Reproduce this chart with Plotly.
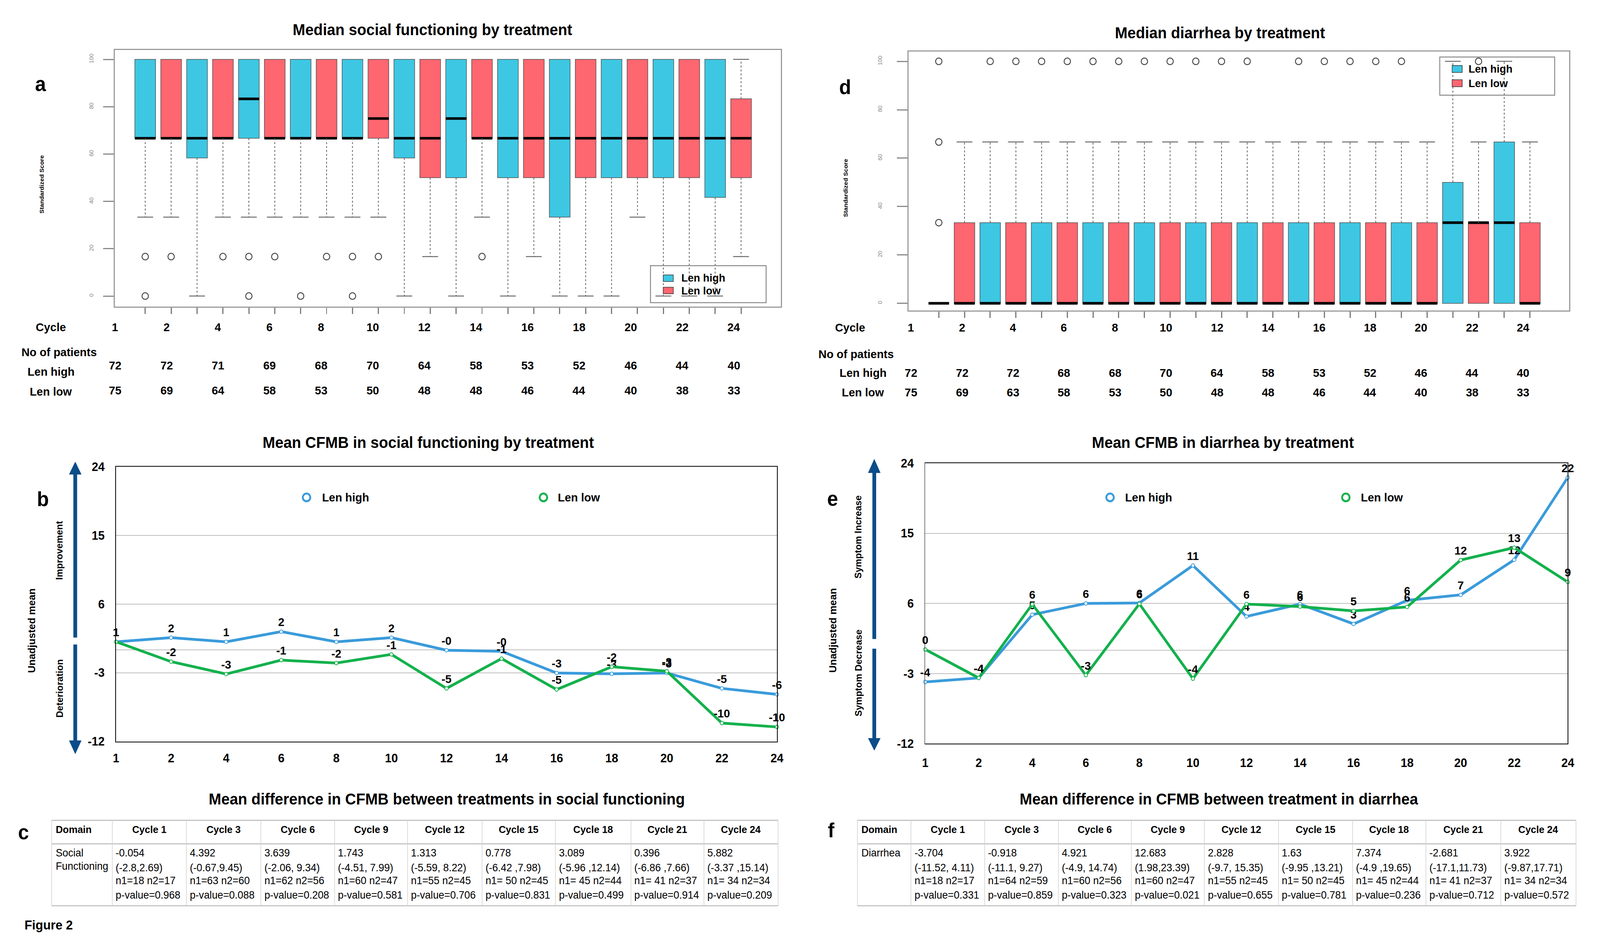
import plotly.graph_objects as go

W, H = 4248, 2430


def px(x):
    return x / W


def py(y):
    return 1 - y / H


FONT = "Liberation Sans, Arial, Helvetica, sans-serif"
CYAN = "#3DC7E3"
RED = "#FE6670"
BLUE = "#3A9BDB"
GREEN = "#13B14C"
NAVY = "#0B4D89"
GRAYTXT = "#8a8a8a"

# ---------------------------------------------------------------- data
box_positions = [1, 2, 3, 4, 5, 6, 7, 8, 9, 10, 11, 12, 13, 14, 15, 16, 17, 18, 19, 20, 21, 22, 23, 24]
cycles = ["1", "2", "4", "6", "8", "10", "12", "14", "16", "18", "20", "22", "24"]

# panel a : social functioning box statistics
sf_q1 = [66.67, 66.67, 58.33, 66.67, 66.67, 66.67, 66.67, 66.67, 66.67, 66.67, 58.33, 50,
         50, 66.67, 50, 50, 33.33, 50, 50, 50, 50, 50, 41.67, 50]
sf_median = [66.67, 66.67, 66.67, 66.67, 83.33, 66.67, 66.67, 66.67, 66.67, 75, 66.67, 66.67,
             75, 66.67, 66.67, 66.67, 66.67, 66.67, 66.67, 66.67, 66.67, 66.67, 66.67, 66.67]
sf_q3 = [100, 100, 100, 100, 100, 100, 100, 100, 100, 100, 100, 100,
         100, 100, 100, 100, 100, 100, 100, 100, 100, 100, 100, 83.33]
sf_lower = [33.33, 33.33, 0, 33.33, 33.33, 33.33, 33.33, 33.33, 33.33, 33.33, 0, 16.67,
            0, 33.33, 0, 16.67, 0, 0, 0, 33.33, 0, 0, 0, 16.67]
sf_upper = [100, 100, 100, 100, 100, 100, 100, 100, 100, 100, 100, 100,
            100, 100, 100, 100, 100, 100, 100, 100, 100, 100, 100, 100]
sf_out_pos = [1, 1, 2, 4, 5, 5, 6, 7, 8, 9, 9, 10, 14]
sf_out_val = [16.67, 0, 16.67, 16.67, 16.67, 0, 16.67, 0, 16.67, 16.67, 0, 16.67, 16.67]

# panel d : diarrhea box statistics
di_q1 = [0, 0, 0, 0, 0, 0, 0, 0, 0, 0, 0, 0, 0, 0, 0, 0, 0, 0, 0, 0, 0, 0, 0, 0]
di_median = [0, 0, 0, 0, 0, 0, 0, 0, 0, 0, 0, 0, 0, 0, 0, 0, 0, 0, 0, 0, 33.33, 33.33, 33.33, 0]
di_q3 = [0, 33.33, 33.33, 33.33, 33.33, 33.33, 33.33, 33.33, 33.33, 33.33, 33.33, 33.33,
         33.33, 33.33, 33.33, 33.33, 33.33, 33.33, 33.33, 33.33, 50, 33.33, 66.67, 33.33]
di_lower = [0, 0, 0, 0, 0, 0, 0, 0, 0, 0, 0, 0, 0, 0, 0, 0, 0, 0, 0, 0, 0, 0, 0, 0]
di_upper = [0, 66.67, 66.67, 66.67, 66.67, 66.67, 66.67, 66.67, 66.67, 66.67, 66.67, 66.67,
            66.67, 66.67, 66.67, 66.67, 66.67, 66.67, 66.67, 66.67, 100, 66.67, 100, 66.67]
di_out_pos = [1, 1, 1, 3, 4, 5, 6, 7, 8, 9, 10, 11, 12, 13, 15, 16, 17, 18, 19, 22]
di_out_val = [100, 66.67, 33.33, 100, 100, 100, 100, 100, 100, 100, 100, 100, 100, 100,
              100, 100, 100, 100, 100, 100]

# patients
sf_n_high = [72, 72, 71, 69, 68, 70, 64, 58, 53, 52, 46, 44, 40]
sf_n_low = [75, 69, 64, 58, 53, 50, 48, 48, 46, 44, 40, 38, 33]
di_n_high = [72, 72, 72, 68, 68, 70, 64, 58, 53, 52, 46, 44, 40]
di_n_low = [75, 69, 63, 58, 53, 50, 48, 48, 46, 44, 40, 38, 33]

# panel b : mean CFMB social functioning
sf_mean_high = [1.05, 1.6, 1.05, 2.38, 1.05, 1.6, -0.05, -0.19, -3.03, -3.14, -3.03, -5.05, -5.84]
sf_mean_low = [1.05, -1.55, -3.17, -1.35, -1.73, -0.6, -5.05, -1.15, -5.2, -2.22, -2.8, -9.6, -10.1]

# panel e : mean CFMB diarrhea
di_mean_high = [-4.07, -3.56, 4.56, 6.0, 6.06, 10.87, 4.33, 5.92, 3.37, 6.4, 7.1, 11.6, 22.16]
di_mean_low = [0.1, -3.56, 5.9, -3.2, 5.95, -3.65, 5.92, 5.6, 5.04, 5.55, 11.57, 13.16, 8.75]

# tables
table_header = ["Domain", "Cycle 1", "Cycle 3", "Cycle 6", "Cycle 9", "Cycle 12",
                "Cycle 15", "Cycle 18", "Cycle 21", "Cycle 24"]
sf_diff = ["-0.054", "4.392", "3.639", "1.743", "1.313", "0.778", "3.089", "0.396", "5.882"]
sf_ci = ["(-2.8,2.69)", "(-0.67,9.45)", "(-2.06, 9.34)", "(-4.51, 7.99)", "(-5.59, 8.22)",
         "(-6.42 ,7.98)", "(-5.96 ,12.14)", "(-6.86 ,7.66)", "(-3.37 ,15.14)"]
sf_n = ["n1=18 n2=17", "n1=63 n2=60", "n1=62 n2=56", "n1=60 n2=47", "n1=55 n2=45",
        "n1= 50 n2=45", "n1= 45 n2=44", "n1= 41 n2=37", "n1= 34 n2=34"]
sf_p = ["0.968", "0.088", "0.208", "0.581", "0.706", "0.831", "0.499", "0.914", "0.209"]

di_diff = ["-3.704", "-0.918", "4.921", "12.683", "2.828", "1.63", "7.374", "-2.681", "3.922"]
di_ci = ["(-11.52, 4.11)", "(-11.1, 9.27)", "(-4.9, 14.74)", "(1.98,23.39)", "(-9.7, 15.35)",
         "(-9.95 ,13.21)", "(-4.9 ,19.65)", "(-17.1,11.73)", "(-9.87,17.71)"]
di_n = ["n1=18 n2=17", "n1=64 n2=59", "n1=60 n2=56", "n1=60 n2=47", "n1=55 n2=45",
        "n1= 50 n2=45", "n1= 45 n2=44", "n1= 41 n2=37", "n1= 34 n2=34"]
di_p = ["0.331", "0.859", "0.323", "0.021", "0.655", "0.781", "0.236", "0.712", "0.572"]

# ---------------------------------------------------------------- figure
fig = go.Figure()


def add_box_panel(xa, ya, q1, med, q3, lo, hi, opos, oval):
    pos = box_positions
    colors = [CYAN if p % 2 == 1 else RED for p in pos]
    wx, wy, cx, cy = [], [], [], []
    for p, a, b, l, h in zip(pos, q1, q3, lo, hi):
        if l < a:
            wx += [p, p, None]
            wy += [a, l, None]
            cx.append(p)
            cy.append(l)
        if h > b:
            wx += [p, p, None]
            wy += [b, h, None]
            cx.append(p)
            cy.append(h)
    fig.add_trace(go.Scatter(x=wx, y=wy, mode="lines", xaxis=xa, yaxis=ya,
                             line=dict(color="#6b6b6b", width=2.2, dash="5px,5px"),
                             showlegend=False, hoverinfo="skip"))
    fig.add_trace(go.Scatter(x=cx, y=cy, mode="markers", xaxis=xa, yaxis=ya,
                             marker=dict(symbol="line-ew", size=30, color="#6b6b6b",
                                         line=dict(color="#6b6b6b", width=2.5)),
                             showlegend=False, hoverinfo="skip"))
    fig.add_trace(go.Bar(x=pos, y=[b - a for a, b in zip(q1, q3)], base=q1, width=0.8,
                         xaxis=xa, yaxis=ya,
                         marker=dict(color=colors, line=dict(color="#505050", width=1.5)),
                         showlegend=False, hoverinfo="skip"))
    fig.add_trace(go.Bar(x=pos, y=[1.1 for _ in pos], base=[m - 0.55 for m in med], width=0.8,
                         xaxis=xa, yaxis=ya,
                         marker=dict(color="black", line=dict(width=0)),
                         showlegend=False, hoverinfo="skip"))
    fig.add_trace(go.Scatter(x=opos, y=oval, mode="markers", xaxis=xa, yaxis=ya,
                             marker=dict(symbol="circle-open", size=17, color="#4a4a4a",
                                         line=dict(color="#4a4a4a", width=2.5)),
                             showlegend=False, hoverinfo="skip"))


add_box_panel("x", "y", sf_q1, sf_median, sf_q3, sf_lower, sf_upper, sf_out_pos, sf_out_val)
add_box_panel("x2", "y2", di_q1, di_median, di_q3, di_lower, di_upper, di_out_pos, di_out_val)


def fmt(v):
    return "<b>%s</b>" % ("%.0f" % v)


def add_lines(xa, ya, high, low):
    for vals, col in ((high, BLUE), (low, GREEN)):
        fig.add_trace(go.Scatter(
            x=cycles, y=vals, mode="lines+markers+text", xaxis=xa, yaxis=ya,
            line=dict(color=col, width=7),
            marker=dict(symbol="circle", size=9, color="white", line=dict(color=col, width=2)),
            text=[fmt(v) for v in vals], textposition="top center",
            textfont=dict(family=FONT, size=30, color="black"),
            cliponaxis=False, showlegend=False, hoverinfo="skip"))


add_lines("x3", "y3", sf_mean_high, sf_mean_low)
add_lines("x4", "y4", di_mean_high, di_mean_low)

# ---------------------------------------------------------------- axes
box_x = dict(range=[-0.17, 25.53], tickvals=box_positions, ticks="outside", ticklen=16,
             tickwidth=2.5, tickcolor="#7a7a7a", showticklabels=False, showgrid=False,
             zeroline=False, showline=True, mirror=True, linecolor="#9c9c9c", linewidth=3)
box_y = dict(tickvals=[0, 20, 40, 60, 80, 100], ticks="outside", ticklen=28, tickwidth=2.5,
             tickcolor="#8a8a8a", tickangle=-90,
             tickfont=dict(size=15, color=GRAYTXT, family=FONT),
             showgrid=False, zeroline=False, showline=True, mirror=True,
             linecolor="#9c9c9c", linewidth=3)

line_x = dict(type="category", categoryorder="array", categoryarray=cycles, range=[0, 12],
              tickvals=cycles, ticktext=["<b>%s</b>" % c for c in cycles],
              tickfont=dict(size=31, color="black", family=FONT),
              ticks="outside", tickcolor="rgba(0,0,0,0)", showgrid=False, zeroline=False,
              showline=True, mirror=True, linecolor="black", linewidth=2)
line_y = dict(range=[-12, 24], tickvals=[-12, -3, 0, 6, 15, 24],
              ticktext=["<b>-12</b>", "<b>-3</b>", "", "<b>6</b>", "<b>15</b>", "<b>24</b>"],
              tickfont=dict(size=31, color="black", family=FONT),
              ticks="outside", ticklen=22, tickcolor="rgba(0,0,0,0)",
              showgrid=True, gridcolor="#BEBEBE", gridwidth=2, zeroline=False,
              showline=True, mirror=True, linecolor="black", linewidth=2)

fig.update_layout(
    width=W, height=H, autosize=False,
    margin=dict(l=0, r=0, t=0, b=0),
    paper_bgcolor="white", plot_bgcolor="white",
    barmode="overlay", showlegend=False,
    font=dict(family=FONT),
    xaxis=dict(domain=[px(298), px(2077)], anchor="y", **box_x),
    yaxis=dict(domain=[py(779), py(113)], range=[-4.4, 103.9], anchor="x",
               ticklabelstandoff=20, **box_y),
    xaxis2=dict(domain=[px(2419), px(4184)], anchor="y2", **box_x),
    yaxis2=dict(domain=[py(789), py(117)], range=[-2.9, 104], anchor="x2",
                ticklabelstandoff=34, **box_y),
    xaxis3=dict(domain=[px(301), px(2067)], anchor="y3", ticklen=14, **line_x),
    yaxis3=dict(domain=[py(1909), py(1195)], anchor="x3", **line_y),
    xaxis4=dict(domain=[px(2463), px(4180)], anchor="y4", ticklen=20, **line_x),
    yaxis4=dict(domain=[py(1915), py(1186)], anchor="x4", **line_y),
)

# ---------------------------------------------------------------- annotations
anns = []
shapes = []


def ann(text, x, y, size, bold=True, xanchor="center", yanchor="middle", angle=0, color="black"):
    anns.append(dict(text=("<b>%s</b>" % text) if bold else text, x=px(x), y=py(y),
                     xref="paper", yref="paper", showarrow=False,
                     font=dict(family=FONT, size=size, color=color),
                     xanchor=xanchor, yanchor=yanchor, textangle=angle))


def rect(x0, y0, x1, y1, line_color, width, fill="rgba(0,0,0,0)"):
    shapes.append(dict(type="rect", xref="paper", yref="paper", x0=px(x0), x1=px(x1),
                       y0=py(y1), y1=py(y0), line=dict(color=line_color, width=width),
                       fillcolor=fill))


def hline(x0, x1, y, color, width):
    shapes.append(dict(type="line", xref="paper", yref="paper", x0=px(x0), x1=px(x1),
                       y0=py(y), y1=py(y), line=dict(color=color, width=width)))


def vline(x, y0, y1, color, width):
    shapes.append(dict(type="line", xref="paper", yref="paper", x0=px(x), x1=px(x),
                       y0=py(y0), y1=py(y1), line=dict(color=color, width=width)))


def tri(x, ytip, ybase, half):
    shapes.append(dict(type="path", xref="paper", yref="paper",
                       path="M %f,%f L %f,%f L %f,%f Z" % (px(x), py(ytip), px(x - half), py(ybase),
                                                         px(x + half), py(ybase)),
                       fillcolor=NAVY, line=dict(color=NAVY, width=1)))


def circ(cx, cy, r, col):
    shapes.append(dict(type="circle", xref="paper", yref="paper", x0=px(cx - r), x1=px(cx + r),
                       y0=py(cy + r), y1=py(cy - r), line=dict(color=col, width=5),
                       fillcolor="white"))


# ---- panel a
ann("Median social functioning by treatment", 1146, 60, 40)
ann("a", 100, 201, 52)
ann("Standardized Score", 102, 462, 16, angle=-90)
ann("Cycle", 127, 832, 30)
ann("No of patients", 149, 897, 30)
ann("Len high", 127, 948, 30)
ann("Len low", 127, 1000, 30)
for k, c in enumerate(cycles):
    xk = 298 + 137.8 * k
    ann(c, xk, 832, 30)
    ann(str(sf_n_high[k]), xk, 932, 30)
    ann(str(sf_n_low[k]), xk, 997, 30)
rect(1729, 673, 2038, 769, "#8a8a8a", 2.5)
rect(1763, 697, 1790, 714, "#333333", 1.5, CYAN)
rect(1763, 729, 1790, 746, "#333333", 1.5, RED)
ann("Len high", 1810, 705, 28, xanchor="left")
ann("Len low", 1810, 738, 28, xanchor="left")

# ---- panel d
ann("Median diarrhea by treatment", 3251, 68, 40)
ann("d", 2249, 209, 52)
ann("Standardized Score", 2250, 471, 16, angle=-90)
ann("Cycle", 2262, 834, 30)
ann("No of patients", 2278, 902, 30)
ann("Len high", 2297, 951, 30)
ann("Len low", 2297, 1002, 30)
for k, c in enumerate(cycles):
    xk = 2425 + 136.3 * k
    ann(c, xk, 834, 30)
    ann(str(di_n_high[k]), xk, 951, 30)
    ann(str(di_n_low[k]), xk, 1002, 30)
rect(3838, 131, 4145, 230, "#8a8a8a", 2.5)
rect(3871, 153, 3898, 171, "#333333", 1.5, CYAN)
rect(3871, 190, 3898, 208, "#333333", 1.5, RED)
ann("Len high", 3913, 162, 28, xanchor="left")
ann("Len low", 3913, 199, 28, xanchor="left")

# ---- panel b
ann("Mean CFMB in social functioning by treatment", 1135, 1132, 40)
ann("b", 106, 1279, 52)
ann("Unadjusted mean", 75, 1621, 26, angle=-90)
ann("Improvement", 150, 1413, 24, angle=-90)
ann("Deterioration", 150, 1772, 24, angle=-90)
vline(192, 1213, 1639, NAVY, 10)
vline(192, 1657, 1909, NAVY, 10)
tri(192, 1183, 1215, 16)
tri(192, 1941, 1907, 16)
circ(810, 1275, 10, BLUE)
circ(1443, 1275, 10, GREEN)
ann("Len high", 849, 1275, 30, xanchor="left")
ann("Len low", 1479, 1275, 30, xanchor="left")

# ---- panel e
ann("Mean CFMB in diarrhea by treatment", 3259, 1132, 40)
ann("e", 2216, 1278, 52)
ann("Unadjusted mean", 2216, 1620, 26, angle=-90)
ann("Symptom Increase", 2284, 1378, 24, angle=-90)
ann("Symptom Decrease", 2284, 1731, 24, angle=-90)
vline(2327, 1209, 1643, NAVY, 10)
vline(2327, 1668, 1903, NAVY, 10)
tri(2327, 1176, 1211, 16)
tri(2327, 1932, 1901, 16)
circ(2957, 1275, 10, BLUE)
circ(3587, 1275, 10, GREEN)
ann("Len high", 2995, 1275, 30, xanchor="left")
ann("Len low", 3625, 1275, 30, xanchor="left")


# ---- tables
def table(cols, domain_lines, diff, ci, n, p):
    top, sep, bot = 2114, 2175, 2336
    for yy in (top, sep, bot):
        hline(cols[0], cols[-1], yy, "#C4C4C4", 3)
    for xx in cols:
        vline(xx, top, bot, "#CFCFCF", 1.5)
    ann("Domain", cols[0] + 9, 2138, 26, xanchor="left")
    for i, h in enumerate(table_header[1:]):
        ann(h, (cols[i + 1] + cols[i + 2]) / 2, 2138, 26)
    for j, t in enumerate(domain_lines):
        ann(t, cols[0] + 9, 2199 + 34 * j, 27, bold=False, xanchor="left")
    for i in range(len(diff)):
        xl = cols[i + 1] + 7
        ann(diff[i], xl, 2199, 27, bold=False, xanchor="left")
        ann(ci[i], xl, 2237, 27, bold=False, xanchor="left")
        ann(n[i], xl, 2271, 27, bold=False, xanchor="left")
        ann("p-value=" + p[i], xl, 2308, 27, bold=False, xanchor="left")


ann("Mean difference in CFMB between treatments in social functioning", 1185, 2059, 40)
ann("c", 54, 2145, 52)
table([129, 291, 489, 688, 885, 1080, 1279, 1475, 1677, 1872, 2070],
      ["Social", "Functioning"], sf_diff, sf_ci, sf_n, sf_p)

ann("Mean difference in CFMB between treatment in diarrhea", 3248, 2059, 40)
ann("f", 2212, 2140, 52)
table([2282, 2425, 2622, 2819, 3014, 3209, 3407, 3605, 3801, 4001, 4202],
      ["Diarrhea"], di_diff, di_ci, di_n, di_p)

ann("Figure 2", 54, 2386, 33, xanchor="left")

fig.update_layout(annotations=anns, shapes=shapes)

# fit the fixed-size figure exactly into the browser viewport
fit_js = """
document.documentElement.style.margin='0';
document.body.style.margin='0';
document.body.style.overflow='hidden';
document.documentElement.style.overflow='hidden';
var gd=document.getElementById('{plot_id}');
var sx=window.innerWidth/%d, sy=window.innerHeight/%d;
gd.style.transformOrigin='0 0';
gd.style.transform='scale('+sx+','+sy+')';
""" % (W, H)

fig.write_html("out.html", post_script=fit_js, config={"displayModeBar": False})
